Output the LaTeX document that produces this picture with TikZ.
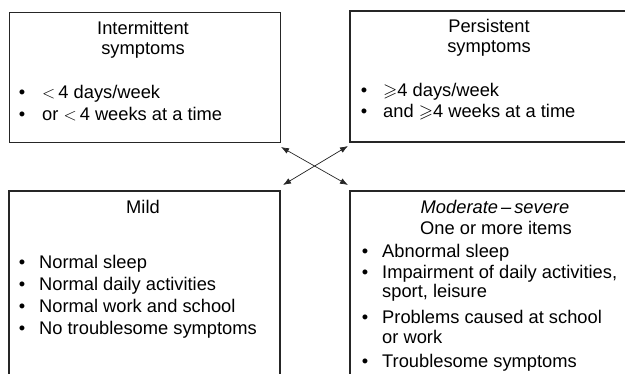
\documentclass[tikz,border=0pt]{standalone}
\usepackage{amssymb}
\usepackage{fontspec}
\setmainfont{Liberation Sans}
\usetikzlibrary{arrows.meta}
\begin{document}
\begin{tikzpicture}[x=1pt,y=1pt,
  txt/.style={inner sep=0pt,anchor=base west,font=\fontsize{18.3}{20}\selectfont},
  ctxt/.style={inner sep=0pt,anchor=base,font=\fontsize{18.3}{20}\selectfont},
  bul/.style={inner sep=0pt,anchor=base,font=\fontsize{18.3}{20}\selectfont},
  frame/.style={line width=1.1pt,black!85},
  conn/.style={line width=0.7pt,black!85,{Latex[length=8pt,width=6pt]}-{Latex[length=8pt,width=6pt]}}]
\useasboundingbox (0,0) rectangle (625,373);
% boxes
\node[frame,draw,rectangle,minimum width=271pt,minimum height=130pt,inner sep=0pt,anchor=north west] (tl) at (9,361) {};
\coordinate (tr) at (350,362);
\coordinate (bl) at (9,182);
\coordinate (br) at (350,182);
\draw[frame] (630,362) -- (tr) -- (350,231) -- (630,231);
\draw[frame] (9,-5) -- (bl) -- (280,182) -- (280,-5);
\draw[frame] (350,-5) -- (br) -- (630,182);
% connectors
\coordinate (a1) at (281,226);
\coordinate (a2) at (348,188);
\coordinate (b1) at (283,188);
\coordinate (b2) at (348,227);
\draw[conn] (a1) -- (a2);
\draw[conn] (b1) -- (b2);
% TL text
\node[ctxt] (t1) at (143,338) {Intermittent};
\node[ctxt] (t2) at (143,318) {symptoms};
\node[bul] (t3b) at (22,274) {\textbullet};
\node[txt] (t3) at (42,274) {$<$\,4 days/week};
\node[bul] (t4b) at (22,252) {\textbullet};
\node[txt] (t4) at (42,252) {or $<$\,4 weeks at a time};
% TR text
\node[ctxt] (p1) at (489,340) {Persistent};
\node[ctxt] (p2) at (489,320) {symptoms};
\node[bul] (p3b) at (364,276) {\textbullet};
\node[txt] (p3) at (383,276) {$\geqslant$4 days/week};
\node[bul] (p4b) at (364,255) {\textbullet};
\node[txt] (p4) at (383,255) {and $\geqslant$4 weeks at a time};
% BL text
\node[ctxt] (m1) at (143,160) {Mild};
\node[bul] (m2b) at (22,105) {\textbullet};
\node[txt] (m2) at (39,105) {Normal sleep};
\node[bul] (m3b) at (22,83) {\textbullet};
\node[txt] (m3) at (39,83) {Normal daily activities};
\node[bul] (m4b) at (22,61) {\textbullet};
\node[txt] (m4) at (39,61) {Normal work and school};
\node[bul] (m5b) at (22,39) {\textbullet};
\node[txt] (m5) at (39,39) {No troublesome symptoms};
% BR text
\node[ctxt] (s1) at (495,160) {\textit{Moderate\,–\,severe}};
\node[ctxt] (s2) at (496,139) {One or more items};
\node[bul] (s3b) at (365,116) {\textbullet};
\node[txt] (s3) at (382,116) {Abnormal sleep};
\node[bul] (s4b) at (365,95) {\textbullet};
\node[txt] (s4) at (382,95) {Impairment of daily activities,};
\node[txt] (s5) at (382,75) {sport, leisure};
\node[bul] (s6b) at (365,50) {\textbullet};
\node[txt] (s6) at (382,50) {Problems caused at school};
\node[txt] (s7) at (382,30) {or work};
\node[bul] (s8b) at (365,6) {\textbullet};
\node[txt] (s8) at (382,6) {Troublesome symptoms};
\end{tikzpicture}
\end{document}
